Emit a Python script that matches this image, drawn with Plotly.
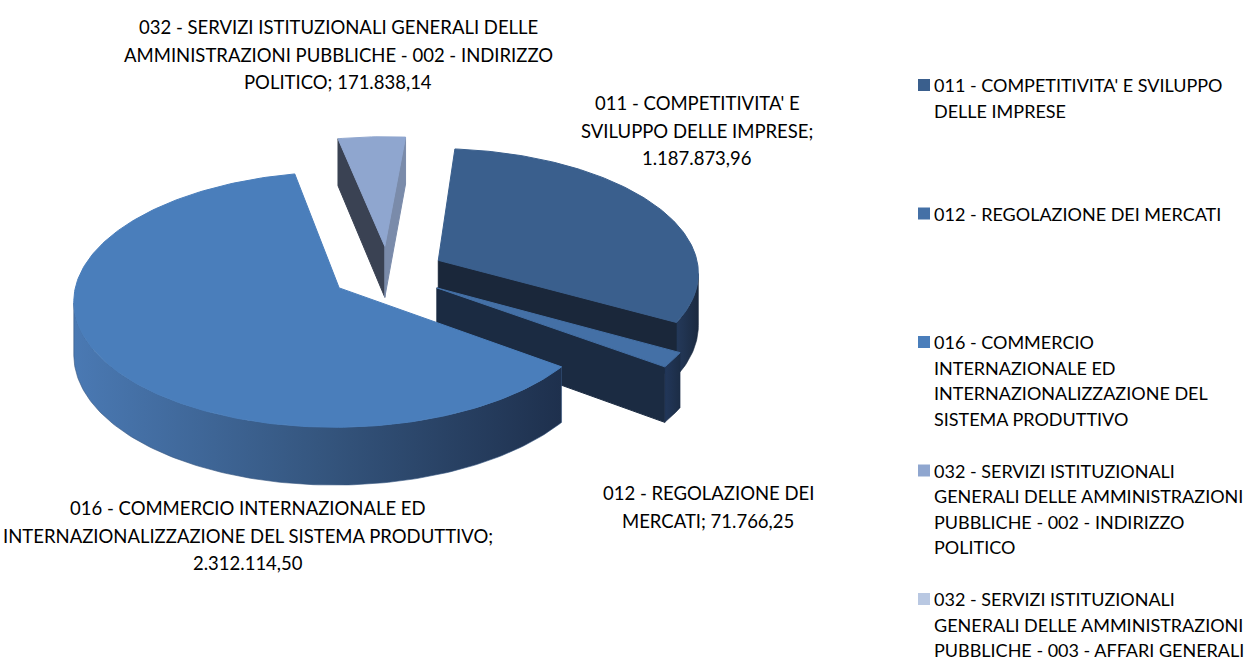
import math
import textwrap
import plotly.graph_objects as go

# ---------------- data ----------------
categories = [
    "011 - COMPETITIVITA' E SVILUPPO DELLE IMPRESE",
    "012 - REGOLAZIONE DEI MERCATI",
    "016 - COMMERCIO INTERNAZIONALE ED INTERNAZIONALIZZAZIONE DEL SISTEMA PRODUTTIVO",
    "032 - SERVIZI ISTITUZIONALI GENERALI DELLE AMMINISTRAZIONI PUBBLICHE - 002 - INDIRIZZO POLITICO",
    "032 - SERVIZI ISTITUZIONALI GENERALI DELLE AMMINISTRAZIONI PUBBLICHE - 003 - AFFARI GENERALI",
]
values = [1187873.96, 71766.25, 2312114.50, 171838.14, 0.0]

legend_lines = [
    ["011 - COMPETITIVITA' E SVILUPPO", "DELLE IMPRESE"],
    ["012 - REGOLAZIONE DEI MERCATI"],
    ["016 - COMMERCIO", "INTERNAZIONALE ED", "INTERNAZIONALIZZAZIONE DEL", "SISTEMA PRODUTTIVO"],
    ["032 - SERVIZI ISTITUZIONALI", "GENERALI DELLE AMMINISTRAZIONI", "PUBBLICHE - 002 - INDIRIZZO", "POLITICO"],
    ["032 - SERVIZI ISTITUZIONALI", "GENERALI DELLE AMMINISTRAZIONI", "PUBBLICHE - 003 - AFFARI GENERALI"],
]

# ---------------- style ----------------
top_colors = ["#3A5F8D", "#4470A6", "#4A7EBB", "#8FA6CF", "#B9C8E2"]
wall_scales = [
    [[0, "#24395A"], [1, "#1B2A40"]],
    [[0, "#22375A"], [1, "#1C2D46"]],
    [[0, "#4A79B3"], [0.5, "#35567F"], [1, "#1E304D"]],
    [[0, "#3A4A66"], [1, "#2A3A55"]],
    [[0, "#5A6A86"], [1, "#4A5A75"]],
]
face_colors = [  # (start face, end face)
    ("#1E2E46", "#1A273A"),
    ("#1E2E46", "#1B2B42"),
    ("#22365A", "#22365A"),
    ("#3A4253", "#7A8BAA"),
    ("#5A6A86", "#8A9BB8"),
]
label_wrap = [23, 21, 46, 43, 40]
label_pos = [(697, 103), (708, 493), (248, 508), (338, 27), (338, 27)]
label_step = 27.5

FONT = "Lato"
LABEL_SIZE = 18.5
LEGEND_SIZE = 18

W, H = 1252, 660
CX, CY = 388.0, 273.0
RX, RY = 261.0, 124.0
K = 0.09
DEPTH = 52.0
EXPLODE = 0.22
START = 5.0


def proj(u, v, hd):
    g = 1.0 / (1.0 + K * v)
    return CX + RX * u * g, CY + (-RY * v + DEPTH * hd) * g


def it_fmt(x):
    s = f"{x:,.2f}"
    return s.replace(",", "X").replace(".", ",").replace("X", ".")


fig = go.Figure()

total = sum(values)
slices = []
cum = 0.0
for i, val in enumerate(values):
    a0 = START + 360.0 * cum / total
    a1 = a0 + 360.0 * val / total
    cum += val
    if val <= 0:
        continue
    mid = math.radians((a0 + a1) / 2)
    eu, ev = EXPLODE * math.sin(mid), EXPLODE * math.cos(mid)
    slices.append((i, a0, a1, eu, ev))

cam_u, cam_v = 0.0, -1.0 / K


def add_poly(pts, color=None, scale=None):
    xs = [p[0] for p in pts] + [pts[0][0]]
    ys = [p[1] for p in pts] + [pts[0][1]]
    kw = dict(x=xs, y=ys, mode="lines", fill="toself", showlegend=False,
              hoverinfo="skip")
    if scale is not None:
        kw["fillgradient"] = dict(type="horizontal", colorscale=scale)
        kw["line"] = dict(width=0.6, color=scale[len(scale) // 2][1])
    else:
        kw["fillcolor"] = color
        kw["line"] = dict(width=1, color=color)
    fig.add_trace(go.Scatter(**kw))


for (i, a0, a1, eu, ev) in sorted(slices, key=lambda s: -s[4]):
    r0, r1 = math.radians(a0), math.radians(a1)
    n = max(4, int(abs(a1 - a0) / 1.0))
    thetas = [r0 + (r1 - r0) * k / n for k in range(n + 1)]

    def rim(t, hd):
        return proj(eu + math.sin(t), ev + math.cos(t), hd)

    apex_t = proj(eu, ev, 0)
    apex_b = proj(eu, ev, 1)

    # start cut face
    nu, nv = -math.cos(r0), math.sin(r0)
    if nu * (cam_u - eu) + nv * (cam_v - ev) > 0:
        add_poly([apex_t, rim(r0, 0), rim(r0, 1), apex_b], face_colors[i][0])
    # end cut face
    nu, nv = math.cos(r1), -math.sin(r1)
    if nu * (cam_u - eu) + nv * (cam_v - ev) > 0:
        add_poly([apex_t, rim(r1, 0), rim(r1, 1), apex_b], face_colors[i][1])

    # curved outer wall (visible runs)
    runs, cur = [], []
    for t in thetas:
        pu, pv = eu + math.sin(t), ev + math.cos(t)
        vis = math.sin(t) * (cam_u - pu) + math.cos(t) * (cam_v - pv) > 0
        if vis:
            cur.append(t)
        elif cur:
            runs.append(cur)
            cur = []
    if cur:
        runs.append(cur)
    for run in runs:
        if len(run) < 2:
            continue
        pts = [rim(t, 0) for t in run] + [rim(t, 1) for t in reversed(run)]
        add_poly(pts, scale=wall_scales[i])

    # top face
    pts = [apex_t] + [rim(t, 0) for t in thetas]
    add_poly(pts, top_colors[i])

# ---------------- data labels ----------------
for (i, a0, a1, eu, ev) in slices:
    text = f"{categories[i]}; {it_fmt(values[i])}"
    lines = textwrap.wrap(text, width=label_wrap[i])
    lx, ly = label_pos[i]
    for j, ln in enumerate(lines):
        fig.add_annotation(x=lx, y=ly + j * label_step, text=ln, showarrow=False,
                           xanchor="center", yanchor="middle",
                           font=dict(family=FONT, size=LABEL_SIZE, color="#000000"))

# ---------------- legend ----------------
LEG_X, LEG_Y0, LEG_STEP, LEG_LINE = 932, 85, 128.5, 25.5
for i, lines in enumerate(legend_lines):
    y0 = LEG_Y0 + i * LEG_STEP
    fig.add_shape(type="rect", xref="x", yref="y", x0=918, x1=930, y0=y0 - 6, y1=y0 + 6,
                  fillcolor=top_colors[i], line=dict(width=0))
    for j, ln in enumerate(lines):
        fig.add_annotation(x=LEG_X, y=y0 + j * LEG_LINE, text=ln, showarrow=False,
                           xanchor="left", yanchor="middle",
                           font=dict(family=FONT, size=LEGEND_SIZE, color="#000000"))

fig.update_layout(
    width=W, height=H,
    margin=dict(l=0, r=0, t=0, b=0),
    paper_bgcolor="white", plot_bgcolor="white",
    xaxis=dict(range=[0, W], visible=False, fixedrange=True),
    yaxis=dict(range=[H, 0], visible=False, fixedrange=True),
    showlegend=False,
)
fig.write_html("out.html", config={"displayModeBar": False},
               post_script="document.body.style.margin='0';document.body.style.overflow='hidden';")
